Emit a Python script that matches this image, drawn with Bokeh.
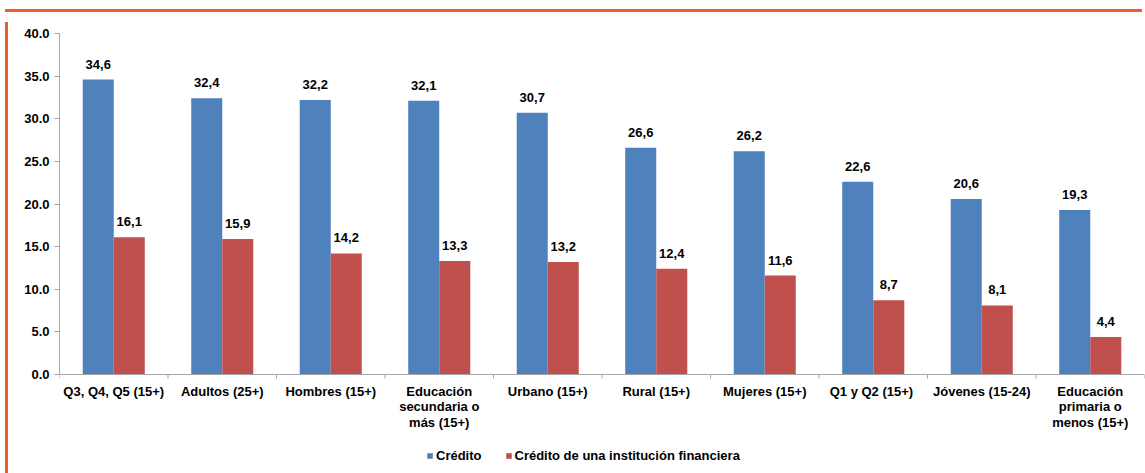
from bokeh.plotting import figure
from bokeh.layouts import column, row
from bokeh.models import (Range1d, FixedTicker, NumeralTickFormatter, Legend, LegendItem,
                          ColumnDataSource, Div, Spacer, Span)
from bokeh.transform import dodge
from bokeh.core.properties import value
from bokeh.embed import file_html
from bokeh.resources import INLINE

categories = ["Q3, Q4, Q5 (15+)", "Adultos (25+)", "Hombres (15+)",
              "Educación\nsecundaria o\nmás (15+)", "Urbano (15+)", "Rural (15+)",
              "Mujeres (15+)", "Q1 y Q2  (15+)", "Jóvenes (15-24)",
              "Educación\nprimaria o\nmenos (15+)"]
credito = [34.6, 32.4, 32.2, 32.1, 30.7, 26.6, 26.2, 22.6, 20.6, 19.3]
credito_inst = [16.1, 15.9, 14.2, 13.3, 13.2, 12.4, 11.6, 8.7, 8.1, 4.4]
series_names = ["Crédito", "Crédito de una institución financiera"]
y_ticks = [0, 5, 10, 15, 20, 25, 30, 35, 40]

BLUE = "#4F81BD"
RED = "#C0504D"
ORANGE = "#E8602C"
GRAY = "#A6A6A6"
FONT = "Liberation Sans"

N = len(categories)
Y_MAX = 40
PLOT_H = 456
TOP = 16
FRAME_H = PLOT_H - TOP
PX_PER_UNIT = 341 / Y_MAX
Y_MIN = Y_MAX - FRAME_H / PX_PER_UNIT  # room below zero for the category labels

xc = [i + 0.5 for i in range(N)]
src = ColumnDataSource(dict(
    x=xc, a=credito, b=credito_inst, cat=categories, zero=[0] * N,
    la=[f"{v:.1f}".replace(".", ",") for v in credito],
    lb=[f"{v:.1f}".replace(".", ",") for v in credito_inst],
))
bounds = list(range(N + 1))
tick_len = 4 / PX_PER_UNIT
tsrc = ColumnDataSource(dict(x=bounds, y0=[0] * len(bounds), y1=[-tick_len] * len(bounds)))

p = figure(width=1134, height=PLOT_H, output_backend="svg", toolbar_location=None,
           x_range=Range1d(0, N), y_range=Range1d(Y_MIN, Y_MAX),
           x_axis_location=None,
           min_border_left=46, min_border_right=3, min_border_top=TOP,
           min_border_bottom=0)
p.outline_line_color = None
p.xgrid.visible = False
p.ygrid.visible = False

W = 0.286
r1 = p.vbar(x=dodge("x", -0.143, range=p.x_range), top="a", width=W, source=src,
            fill_color=BLUE, line_color=None)
r2 = p.vbar(x=dodge("x", 0.143, range=p.x_range), top="b", width=W, source=src,
            fill_color=RED, line_color=None)

for col, lab, off in (("a", "la", -0.143), ("b", "lb", 0.143)):
    p.text(x=dodge("x", off, range=p.x_range), y=col, text=lab, source=src,
           text_align="center", text_baseline="bottom", y_offset=-11,
           text_font=value(FONT), text_font_style="bold", text_font_size="13px",
           text_color="black")

# x axis line at zero, boundary ticks and category labels
p.add_layout(Span(location=0, dimension="width", line_color=GRAY, line_width=1))
p.segment(x0="x", y0="y0", x1="x", y1="y1", source=tsrc, line_color=GRAY, line_width=1)
p.text(x="x", y="zero", text="cat", source=src, text_align="center",
       text_baseline="top", y_offset=9, text_line_height=1.05,
       text_font=value(FONT), text_font_style="bold", text_font_size="13px",
       text_color="black")

# y axis
ya = p.yaxis[0]
ya.ticker = FixedTicker(ticks=y_ticks)
ya.bounds = (0, Y_MAX)
ya.formatter = NumeralTickFormatter(format="0.0")
ya.axis_line_color = GRAY
ya.major_tick_line_color = GRAY
ya.major_tick_in = 0
ya.major_tick_out = 5
ya.minor_tick_line_color = None
ya.major_label_standoff = 5
ya.major_label_text_font = FONT
ya.major_label_text_font_style = "bold"
ya.major_label_text_font_size = "13px"
ya.major_label_text_color = "black"

legend = Legend(items=[LegendItem(label=series_names[0], renderers=[r1]),
                       LegendItem(label=series_names[1], renderers=[r2])],
                orientation="horizontal", location=(367, 10),
                glyph_width=7, glyph_height=7, spacing=23, label_standoff=3,
                label_text_font=FONT, label_text_font_style="bold",
                label_text_font_size="13px", label_text_color="black",
                border_line_color=None, background_fill_alpha=0,
                padding=0, margin=0)
p.add_layout(legend, "center")

top_bar = Div(text="", width=1137, height=3, styles={"background-color": ORANGE})
left_bar = Div(text="", width=3, height=PLOT_H, styles={"background-color": ORANGE})
layout = column(Spacer(width=10, height=4), top_bar, row(left_bar, p), spacing=0)

open("out.html", "w").write(file_html(layout, INLINE))
